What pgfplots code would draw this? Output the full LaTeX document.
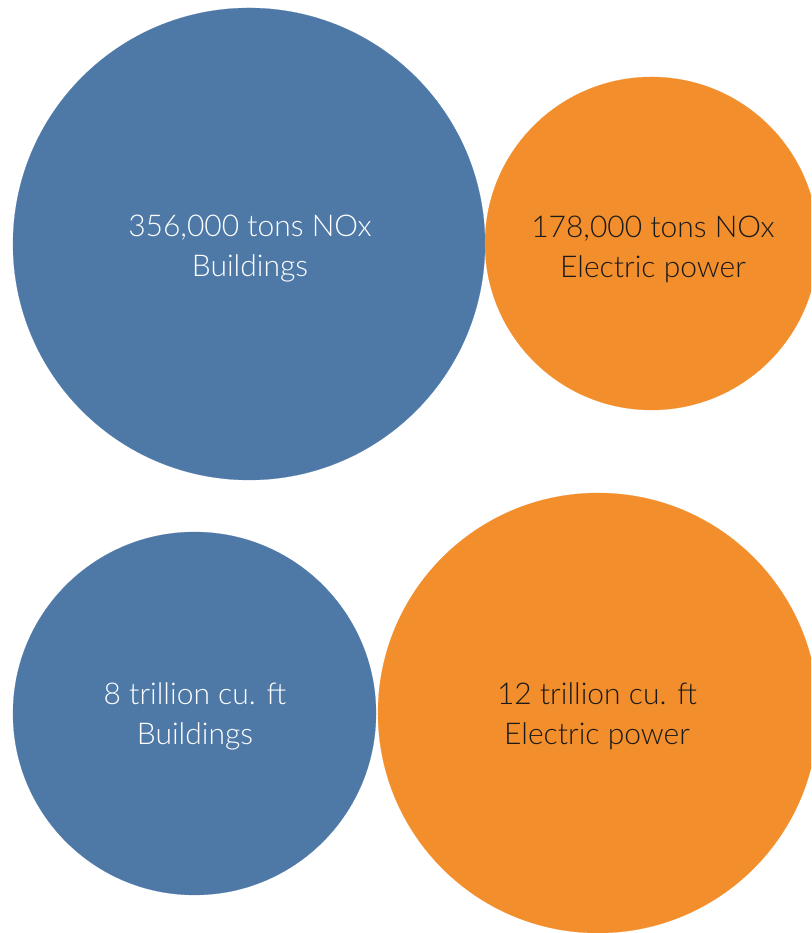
\documentclass[border=0pt]{standalone}
\usepackage{pgfplots}
\pgfplotsset{compat=1.18}
\usepackage{fontspec}
\setmainfont{Lato Light}
\definecolor{tblue}{HTML}{4E79A7}
\definecolor{torange}{HTML}{F28E2B}
\definecolor{tdark}{HTML}{1A1A1A}
\begin{document}
\begin{tikzpicture}
\useasboundingbox (0,0) rectangle (811pt,933pt);
\begin{axis}[
  at={(0,0)}, anchor=south west,
  width=811pt, height=933pt, scale only axis,
  xmin=0, xmax=811, ymin=0, ymax=933,
  hide axis, clip marker paths=true,
]
\addplot[only marks, mark=*, mark options={line width=0.2pt},
  scatter, scatter/use mapped color={draw=tblue, fill=tblue},
  visualization depends on={\thisrow{r} \as \rad},
  scatter/@pre marker code/.append style={/tikz/mark size=\rad pt}]
  table[x=x,y=y]{
x y r
249 689 236
194.5 219.5 181.5
};
\addplot[only marks, mark=*, mark options={line width=0.2pt},
  scatter, scatter/use mapped color={draw=torange, fill=torange},
  visualization depends on={\thisrow{r} \as \rad},
  scatter/@pre marker code/.append style={/tikz/mark size=\rad pt}]
  table[x=x,y=y]{
x y r
651.5 689.5 166.5
598 220 220
};
\node[align=center, text=white, font=\fontsize{30}{40}\selectfont] at (axis cs:250,684) {356,000 tons NOx\\Buildings};
\node[align=center, text=tdark, font=\fontsize{30}{40}\selectfont] at (axis cs:653,684) {178,000 tons NOx\\Electric power};
\node[align=center, text=white, font=\fontsize{30}{40}\selectfont] at (axis cs:195,217) {8 trillion cu. ft\\Buildings};
\node[align=center, text=tdark, font=\fontsize{30}{40}\selectfont] at (axis cs:597,217) {12 trillion cu. ft\\Electric power};
\end{axis}
\end{tikzpicture}
\end{document}
